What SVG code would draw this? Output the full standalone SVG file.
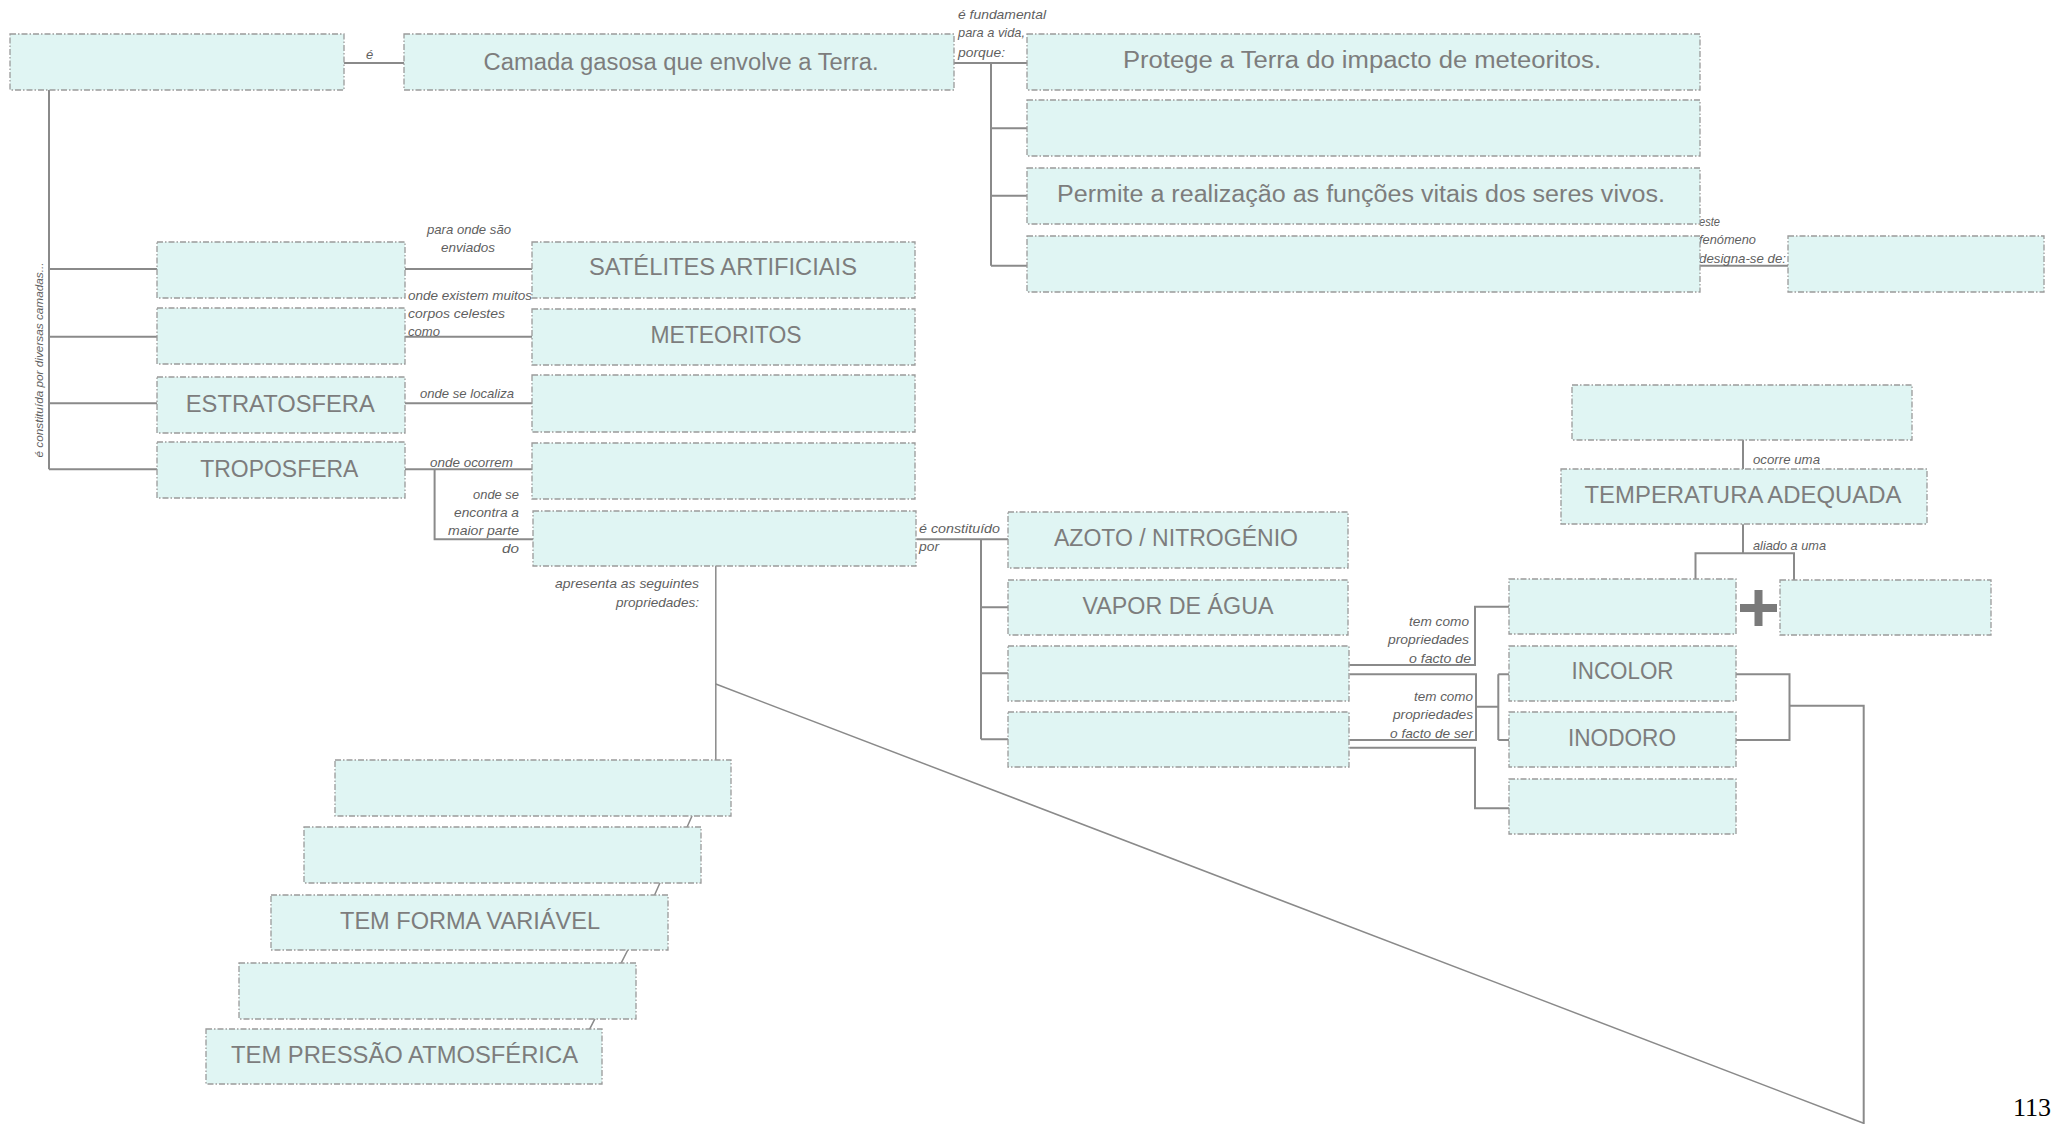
<svg xmlns="http://www.w3.org/2000/svg" width="2055" height="1124" viewBox="0 0 2055 1124">
<style>
.box{fill:#e0f5f3;stroke:#9a9a9a;stroke-width:1.3;stroke-dasharray:6,2,1.5,2}
.nt{font-family:"Liberation Sans",Arial,sans-serif;font-size:23px;fill:#7d7d7d;text-anchor:middle}
.lb{font-family:"Liberation Sans",Arial,sans-serif;font-size:13px;font-style:italic;fill:#5f5f5f}
.r{text-anchor:end}
.m{text-anchor:middle}
.cn{fill:none;stroke:#8a8a8a;stroke-width:2}
.thin{stroke-width:1.5}
</style>
<rect width="2055" height="1124" fill="#ffffff"/>
<g id="connectors">
<path class="cn" d="M343.5,63 H404"/>
<path class="cn" d="M49,90 V469.3 M49,269 H157 M49,336.7 H157 M49,403.3 H157 M49,469.3 H157"/>
<path class="cn" d="M405,269 H532 M405,336.7 H532 M405,403.3 H532 M405,469.3 H532"/>
<path class="cn" d="M434.6,469.3 V539.3 H533.6"/>
<path class="cn" d="M954,63 H1027 M991,63 V265.7 M991,128.3 H1027 M991,195.7 H1027 M991,265.7 H1027"/>
<path class="cn" d="M1700,265.7 H1788"/>
<path class="cn" d="M916.4,539.3 H1008 M981,539.3 V739.3 M981,607.3 H1008 M981,673.3 H1008 M981,739.3 H1008"/>
<path class="cn thin" d="M715.8,566 V760"/>
<path class="cn thin" d="M715.8,684 L1863,1123"/>
<path class="cn thin" d="M692,816 L687,827.3 M660,882.7 L654.6,895 M627.8,950 L621,963.3 M595,1018.7 L589.5,1029.3"/>
<path class="cn" d="M1349.5,665 H1475 V606.7 H1509.3"/>
<path class="cn" d="M1349.5,674.3 H1476 V740 H1349.5 M1476,706.7 H1498.3 M1498.3,674.3 V740 M1498.3,674.3 H1509.3 M1498.3,740 H1509.3"/>
<path class="cn" d="M1349.5,747.7 H1475 V808.3 H1509.3"/>
<path class="cn" d="M1736,674.3 H1789.5 V740 H1736 M1789.5,705.7 H1863.7 V1124"/>
<path class="cn" d="M1743,440 V469"/>
<path class="cn" d="M1743,524.3 V553.3 M1695.5,579.3 V553.3 H1794 V580"/>
</g>
<g id="labels">
<text class="lb" x="366" y="59">é</text>
<text class="lb" x="958" y="19" textLength="88" lengthAdjust="spacingAndGlyphs">é fundamental</text>
<text class="lb" x="958" y="37" textLength="67" lengthAdjust="spacingAndGlyphs">para a vida,</text>
<text class="lb" x="958" y="57" textLength="47" lengthAdjust="spacingAndGlyphs">porque:</text>
<text class="lb" x="427" y="234" textLength="84" lengthAdjust="spacingAndGlyphs">para onde são</text>
<text class="lb" x="441" y="252" textLength="54" lengthAdjust="spacingAndGlyphs">enviados</text>
<text class="lb" x="408" y="300" textLength="124" lengthAdjust="spacingAndGlyphs">onde existem muitos</text>
<text class="lb" x="408" y="318" textLength="97" lengthAdjust="spacingAndGlyphs">corpos celestes</text>
<text class="lb" x="408" y="336" textLength="32" lengthAdjust="spacingAndGlyphs">como</text>
<text class="lb" x="420" y="398" textLength="94" lengthAdjust="spacingAndGlyphs">onde se localiza</text>
<text class="lb" x="430" y="466.5" textLength="83" lengthAdjust="spacingAndGlyphs">onde ocorrem</text>
<text class="lb r" x="519" y="499" textLength="46" lengthAdjust="spacingAndGlyphs">onde se</text>
<text class="lb r" x="519" y="517" textLength="65" lengthAdjust="spacingAndGlyphs">encontra a</text>
<text class="lb r" x="519" y="535" textLength="71" lengthAdjust="spacingAndGlyphs">maior parte</text>
<text class="lb r" x="519" y="553" textLength="17" lengthAdjust="spacingAndGlyphs">do</text>
<text class="lb r" x="699" y="587.5" textLength="144" lengthAdjust="spacingAndGlyphs">apresenta as seguintes</text>
<text class="lb r" x="699" y="607" textLength="83" lengthAdjust="spacingAndGlyphs">propriedades:</text>
<text class="lb" x="919" y="532.5" textLength="81" lengthAdjust="spacingAndGlyphs">é constituído</text>
<text class="lb" x="919" y="551" textLength="20" lengthAdjust="spacingAndGlyphs">por</text>
<text class="lb" x="1699" y="226" textLength="21" lengthAdjust="spacingAndGlyphs">este</text>
<text class="lb" x="1699" y="244" textLength="57" lengthAdjust="spacingAndGlyphs">fenómeno</text>
<text class="lb" x="1699" y="263" textLength="87" lengthAdjust="spacingAndGlyphs">designa-se de:</text>
<text class="lb r" x="1469" y="626" textLength="60" lengthAdjust="spacingAndGlyphs">tem como</text>
<text class="lb r" x="1469" y="644" textLength="81" lengthAdjust="spacingAndGlyphs">propriedades</text>
<text class="lb r" x="1471" y="662.5" textLength="62" lengthAdjust="spacingAndGlyphs">o facto de</text>
<text class="lb r" x="1473" y="701" textLength="59" lengthAdjust="spacingAndGlyphs">tem como</text>
<text class="lb r" x="1473" y="719" textLength="80" lengthAdjust="spacingAndGlyphs">propriedades</text>
<text class="lb r" x="1473" y="737.5" textLength="83" lengthAdjust="spacingAndGlyphs">o facto de ser</text>
<text class="lb" x="1753" y="463.5" textLength="67" lengthAdjust="spacingAndGlyphs">ocorre uma</text>
<text class="lb" x="1753" y="550" textLength="73" lengthAdjust="spacingAndGlyphs">aliado a uma</text>
<text class="lb m" transform="translate(43,360) rotate(-90)" style="font-size:10.5px" textLength="195" lengthAdjust="spacingAndGlyphs">é constituída por diversas camadas...</text>
</g>
<g id="n-atmosfera"><rect class="box" x="10" y="34" width="334" height="56"/></g>
<g id="n-camada"><rect class="box" x="404" y="34" width="550" height="56"/><text class="nt" x="681" y="70" textLength="395" lengthAdjust="spacingAndGlyphs">Camada gasosa que envolve a Terra.</text></g>
<g id="n-protege"><rect class="box" x="1027" y="34" width="673" height="56"/><text class="nt" x="1362" y="68.3" textLength="478" lengthAdjust="spacingAndGlyphs">Protege a Terra do impacto de meteoritos.</text></g>
<g id="n-b2"><rect class="box" x="1027" y="100" width="673" height="56"/></g>
<g id="n-permite"><rect class="box" x="1027" y="168" width="673" height="56"/><text class="nt" x="1361" y="201.7" textLength="608" lengthAdjust="spacingAndGlyphs">Permite a realização as funções vitais dos seres vivos.</text></g>
<g id="n-b4"><rect class="box" x="1027" y="236" width="673" height="56"/></g>
<g id="n-fenomeno"><rect class="box" x="1788" y="236" width="256" height="56"/></g>
<g id="n-l1"><rect class="box" x="157" y="242" width="248" height="56"/></g>
<g id="n-l2"><rect class="box" x="157" y="308" width="248" height="56"/></g>
<g id="n-estratosfera"><rect class="box" x="157" y="377" width="248" height="56"/><text class="nt" x="280.3" y="411.7" textLength="189" lengthAdjust="spacingAndGlyphs">ESTRATOSFERA</text></g>
<g id="n-troposfera"><rect class="box" x="157" y="442" width="248" height="56"/><text class="nt" x="279.3" y="477.3" textLength="158" lengthAdjust="spacingAndGlyphs">TROPOSFERA</text></g>
<g id="n-satelites"><rect class="box" x="532" y="242" width="383" height="56"/><text class="nt" x="723" y="275" textLength="268" lengthAdjust="spacingAndGlyphs">SATÉLITES ARTIFICIAIS</text></g>
<g id="n-meteoritos"><rect class="box" x="532" y="309" width="383" height="56"/><text class="nt" x="726" y="343.3" textLength="151" lengthAdjust="spacingAndGlyphs">METEORITOS</text></g>
<g id="n-r3"><rect class="box" x="532" y="375" width="383" height="57"/></g>
<g id="n-r4"><rect class="box" x="532" y="443" width="383" height="56"/></g>
<g id="n-r5"><rect class="box" x="533" y="511" width="383" height="55"/></g>
<g id="n-azoto"><rect class="box" x="1008" y="512" width="340" height="56"/><text class="nt" x="1176" y="546" textLength="244" lengthAdjust="spacingAndGlyphs">AZOTO / NITROGÉNIO</text></g>
<g id="n-vapor"><rect class="box" x="1008" y="580" width="340" height="55"/><text class="nt" x="1178" y="614" textLength="191" lengthAdjust="spacingAndGlyphs">VAPOR DE ÁGUA</text></g>
<g id="n-c3"><rect class="box" x="1008" y="646" width="341" height="55"/></g>
<g id="n-c4"><rect class="box" x="1008" y="712" width="341" height="55"/></g>
<g id="n-t"><rect class="box" x="1572" y="385" width="340" height="55"/></g>
<g id="n-temperatura"><rect class="box" x="1561" y="469" width="366" height="55"/><text class="nt" x="1743" y="502.7" textLength="317" lengthAdjust="spacingAndGlyphs">TEMPERATURA ADEQUADA</text></g>
<g id="n-e1"><rect class="box" x="1509" y="579" width="227" height="55"/></g>
<g id="n-plus"><path d="M1740,608 H1777 M1758.5,590 V626" stroke="#7a7a7a" stroke-width="8" fill="none"/></g>
<g id="n-e2"><rect class="box" x="1780" y="580" width="211" height="55"/></g>
<g id="n-incolor"><rect class="box" x="1509" y="646" width="227" height="55"/><text class="nt" x="1622.5" y="679.3" textLength="102" lengthAdjust="spacingAndGlyphs">INCOLOR</text></g>
<g id="n-inodoro"><rect class="box" x="1509" y="712" width="227" height="55"/><text class="nt" x="1622" y="745.7" textLength="108" lengthAdjust="spacingAndGlyphs">INODORO</text></g>
<g id="n-e4"><rect class="box" x="1509" y="779" width="227" height="55"/></g>
<g id="n-p1"><rect class="box" x="335" y="760" width="396" height="56"/></g>
<g id="n-p2"><rect class="box" x="304" y="827" width="397" height="56"/></g>
<g id="n-p3"><rect class="box" x="271" y="895" width="397" height="55"/><text class="nt" x="470" y="929.3" textLength="260" lengthAdjust="spacingAndGlyphs">TEM FORMA VARIÁVEL</text></g>
<g id="n-p4"><rect class="box" x="239" y="963" width="397" height="56"/></g>
<g id="n-p5"><rect class="box" x="206" y="1029" width="396" height="55"/><text class="nt" x="404.5" y="1062.7" textLength="347" lengthAdjust="spacingAndGlyphs">TEM PRESSÃO ATMOSFÉRICA</text></g>
<text x="2013" y="1116" font-family="Liberation Serif,serif" font-size="26" fill="#000">113</text>
</svg>
